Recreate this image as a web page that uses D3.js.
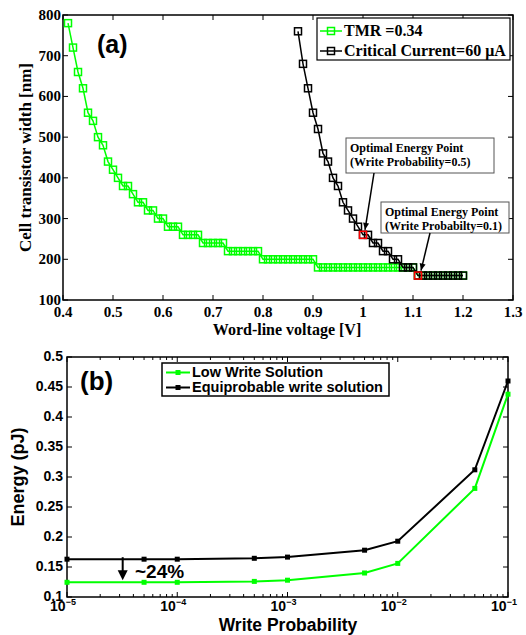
<!DOCTYPE html>
<html>
<head>
<meta charset="utf-8">
<script src="https://cdn.jsdelivr.net/npm/d3@7"></script>
<style>
  body { margin: 0; background: #fff; }
  svg { display: block; }
  .serif { font-family: "Liberation Serif", "Times New Roman", serif; font-weight: bold; }
  .sans { font-family: "Liberation Sans", Arial, sans-serif; font-weight: bold; }
</style>
</head>
<body>
<svg id="fig" width="526" height="635"></svg>
<script>
// ---- panel (a) data ----
var tmrVolt = [0.41,0.42,0.43,0.44,0.45,0.46,0.47,0.48,0.49,0.50,
  0.51,0.52,0.53,0.54,0.55,0.56,0.57,0.58,0.59,0.60,
  0.61,0.62,0.63,0.64,0.65,0.66,0.67,0.68,0.69,0.70,
  0.71,0.72,0.73,0.74,0.75,0.76,0.77,0.78,0.79,0.80,
  0.81,0.82,0.83,0.84,0.85,0.86,0.87,0.88,0.89,0.90,
  0.91,0.92,0.93,0.94,0.95,0.96,0.97,0.98,0.99,1.00,
  1.01,1.02,1.03,1.04,1.05,1.06,1.07,1.08,1.09,1.10,
  1.11,1.12,1.13,1.14,1.15,1.16,1.17,1.18,1.19,1.20];
var tmrWidth = [780,720,660,620,560,540,500,480,440,420,
  400,380,380,360,340,340,320,320,300,300,
  280,280,280,260,260,260,260,240,240,240,
  240,240,220,220,220,220,220,220,220,200,
  200,200,200,200,200,200,200,200,200,200,
  180,180,180,180,180,180,180,180,180,180,
  180,180,180,180,180,180,180,180,180,180,
  160,160,160,160,160,160,160,160,160,160];
var ccVolt = [0.87,0.88,0.89,0.90,0.91,0.92,0.93,0.94,0.95,0.96,
  0.97,0.98,0.99,1.00,1.01,1.02,1.03,1.04,1.05,1.06,
  1.07,1.08,1.09,1.10,1.11,1.12,1.13,1.14,1.15,1.16,
  1.17,1.18,1.19,1.20];
var ccWidth = [760,680,620,560,520,460,440,400,380,340,
  320,300,280,260,260,240,240,220,220,200,
  200,180,180,180,160,160,160,160,160,160,
  160,160,160,160];
var optVolt = [1.00, 1.11];
var optWidth = [260, 160];
var xTicksA = [0.4,0.5,0.6,0.7,0.8,0.9,1.0,1.1,1.2,1.3];
var xTickLabelsA = ["0.4","0.5","0.6","0.7","0.8","0.9","1","1.1","1.2","1.3"];
var yTicksA = [100,200,300,400,500,600,700,800];

// ---- panel (b) data ----
var writeProb = [1e-5,5e-5,1e-4,5e-4,1e-3,5e-3,1e-2,5e-2,1e-1];
var lowWrite = [0.1245,0.1245,0.1245,0.126,0.128,0.140,0.156,0.281,0.438];
var equiWrite = [0.163,0.163,0.163,0.1645,0.1665,0.178,0.193,0.312,0.46];
var yTicksB = [0.1,0.15,0.2,0.25,0.3,0.35,0.4,0.45,0.5];
var yTickLabelsB = ["0.1","0.15","0.2","0.25","0.3","0.35","0.4","0.45","0.5"];
var xDecadesB = [-5,-4,-3,-2,-1];

var GREEN = "#00ff00";
var svg = d3.select("#fig");

// ================= panel (a) =================
var a = {left: 63, right: 513, top: 15, bottom: 300};
var xa = d3.scaleLinear().domain([0.4, 1.3]).range([a.left, a.right]);
var ya = d3.scaleLinear().domain([100, 800]).range([a.bottom, a.top]);

var gA = svg.append("g");
gA.append("rect").attr("x", a.left).attr("y", a.top)
  .attr("width", a.right - a.left).attr("height", a.bottom - a.top)
  .attr("fill", "none").attr("stroke", "#000").attr("stroke-width", 1.5);

// inward ticks on all four sides
xTicksA.forEach(function(t) {
  gA.append("line").attr("x1", xa(t)).attr("x2", xa(t)).attr("y1", a.bottom).attr("y2", a.bottom - 5).attr("stroke", "#000");
  gA.append("line").attr("x1", xa(t)).attr("x2", xa(t)).attr("y1", a.top).attr("y2", a.top + 5).attr("stroke", "#000");
});
yTicksA.forEach(function(t) {
  gA.append("line").attr("x1", a.left).attr("x2", a.left + 5).attr("y1", ya(t)).attr("y2", ya(t)).attr("stroke", "#000");
  gA.append("line").attr("x1", a.right).attr("x2", a.right - 5).attr("y1", ya(t)).attr("y2", ya(t)).attr("stroke", "#000");
});
gA.selectAll("text.xt").data(xTicksA).enter().append("text")
  .attr("class", "serif").attr("x", d => xa(d)).attr("y", a.bottom + 17)
  .attr("text-anchor", "middle").attr("font-size", 15)
  .text((d, i) => xTickLabelsA[i]);
gA.selectAll("text.yt").data(yTicksA).enter().append("text")
  .attr("class", "serif").attr("x", a.left - 2).attr("y", d => ya(d) + 5)
  .attr("text-anchor", "end").attr("font-size", 15).text(d => d);

gA.append("text").attr("class", "serif").attr("x", 287).attr("y", 335)
  .attr("text-anchor", "middle").attr("font-size", 16).text("Word-line voltage [V]");
gA.append("text").attr("class", "serif").attr("font-size", 17)
  .attr("text-anchor", "middle")
  .attr("transform", "translate(31," + ((a.top + a.bottom) / 2) + ") rotate(-90)")
  .text("Cell transistor width [nm]");

var lineA = d3.line().x(d => xa(d[0])).y(d => ya(d[1]));
var tmrPts = tmrVolt.map((v, i) => [v, tmrWidth[i]]);
var ccPts = ccVolt.map((v, i) => [v, ccWidth[i]]);

function drawSeriesA(pts, color) {
  gA.append("path").datum(pts).attr("d", lineA)
    .attr("fill", "none").attr("stroke", color).attr("stroke-width", 1.5);
  gA.selectAll(null).data(pts).enter().append("rect")
    .attr("x", d => xa(d[0]) - 3.5).attr("y", d => ya(d[1]) - 3.5)
    .attr("width", 7).attr("height", 7)
    .attr("fill", "none").attr("stroke", color).attr("stroke-width", 1.5);
}
drawSeriesA(tmrPts, GREEN);
drawSeriesA(ccPts, "#000");
gA.selectAll(null).data(optVolt).enter().append("rect")
  .attr("x", d => xa(d) - 3.5).attr("y", (d, i) => ya(optWidth[i]) - 3.5)
  .attr("width", 7).attr("height", 7)
  .attr("fill", "none").attr("stroke", "#ff0000").attr("stroke-width", 1.5);

gA.append("text").attr("class", "sans").attr("x", 97).attr("y", 53)
  .attr("font-size", 25).text("(a)");

// legend (a)
var legA = gA.append("g");
legA.append("rect").attr("x", 317).attr("y", 18).attr("width", 193).attr("height", 42)
  .attr("fill", "#fff").attr("stroke", "#000").attr("stroke-width", 1.2);
[["TMR =0.34", GREEN, 36], ["Critical Current=60 \u03bcA", "#000", 56]].forEach(function(e) {
  legA.append("line").attr("x1", 320).attr("x2", 342).attr("y1", e[2] - 5).attr("y2", e[2] - 5)
    .attr("stroke", e[1]).attr("stroke-width", 1.5);
  legA.append("rect").attr("x", 327.5).attr("y", e[2] - 8.5).attr("width", 7).attr("height", 7)
    .attr("fill", "none").attr("stroke", e[1]).attr("stroke-width", 1.5);
  legA.append("text").attr("class", "serif").attr("x", 344).attr("y", e[2])
    .attr("font-size", 16).text(e[0]);
});

// annotation boxes
function annot(x, y, w, h, lines, ax, ay, tx, ty) {
  var g = gA.append("g");
  g.append("rect").attr("x", x).attr("y", y).attr("width", w).attr("height", h)
    .attr("fill", "#fff").attr("stroke", "#555").attr("stroke-width", 1);
  lines.forEach(function(l, i) {
    g.append("text").attr("class", "serif").attr("x", x + 4).attr("y", y + 14 + i * 14)
      .attr("font-size", 12).text(l);
  });
  g.append("line").attr("x1", ax).attr("y1", ay).attr("x2", tx).attr("y2", ty)
    .attr("stroke", "#000").attr("stroke-width", 1.5);
  var ang = Math.atan2(ty - ay, tx - ax);
  var L = 7, W = 3;
  var p = [[tx, ty],
    [tx - L * Math.cos(ang) + W * Math.sin(ang), ty - L * Math.sin(ang) - W * Math.cos(ang)],
    [tx - L * Math.cos(ang) - W * Math.sin(ang), ty - L * Math.sin(ang) + W * Math.cos(ang)]];
  g.append("path").attr("d", "M" + p.join("L") + "Z").attr("fill", "#000");
}
annot(346, 138, 148, 35, ["Optimal Energy Point", "(Write Probability=0.5)"],
  374, 173, xa(optVolt[0]) + 2, ya(optWidth[0]) - 5);
annot(381, 202, 128, 31, ["Optimal Energy Point", "(Write Probabilty=0.1)"],
  430, 233, xa(optVolt[1]) + 3, ya(optWidth[1]) - 5);

// ================= panel (b) =================
var b = {left: 67, right: 508, top: 357, bottom: 597};
var xb = d3.scaleLog().domain([1e-5, 1e-1]).range([b.left, b.right]);
var yb = d3.scaleLinear().domain([0.1, 0.5]).range([b.bottom, b.top]);

var gB = svg.append("g");
gB.append("rect").attr("x", b.left).attr("y", b.top)
  .attr("width", b.right - b.left).attr("height", b.bottom - b.top)
  .attr("fill", "none").attr("stroke", "#000").attr("stroke-width", 1.5);

xb.ticks().forEach(function(t) {
  var major = Math.abs(Math.log10(t) - Math.round(Math.log10(t))) < 1e-9;
  var len = major ? 5 : 3;
  gB.append("line").attr("x1", xb(t)).attr("x2", xb(t)).attr("y1", b.bottom).attr("y2", b.bottom - len).attr("stroke", "#000");
  gB.append("line").attr("x1", xb(t)).attr("x2", xb(t)).attr("y1", b.top).attr("y2", b.top + len).attr("stroke", "#000");
});
yTicksB.forEach(function(t) {
  gB.append("line").attr("x1", b.left).attr("x2", b.left + 5).attr("y1", yb(t)).attr("y2", yb(t)).attr("stroke", "#000");
  gB.append("line").attr("x1", b.right).attr("x2", b.right - 5).attr("y1", yb(t)).attr("y2", yb(t)).attr("stroke", "#000");
});
gB.selectAll(null).data(yTicksB).enter().append("text")
  .attr("class", "sans").attr("x", b.left - 4).attr("y", d => yb(d) + 4)
  .attr("text-anchor", "end").attr("font-size", 14)
  .text((d, i) => yTickLabelsB[i]);
xDecadesB.forEach(function(e) {
  var t = gB.append("text").attr("class", "sans").attr("x", xb(Math.pow(10, e)) - 4)
    .attr("y", b.bottom + 14).attr("text-anchor", "middle").attr("font-size", 14);
  t.append("tspan").text("10");
  t.append("tspan").attr("dy", -6).attr("font-size", 9).text("\u2212" + (-e));
});
gB.append("text").attr("class", "sans").attr("x", 288).attr("y", 631)
  .attr("text-anchor", "middle").attr("font-size", 17.5).text("Write Probability");
gB.append("text").attr("class", "sans").attr("font-size", 18)
  .attr("text-anchor", "middle")
  .attr("transform", "translate(24," + ((b.top + b.bottom) / 2) + ") rotate(-90)")
  .text("Energy (pJ)");

var lineB = d3.line().x(d => xb(d[0])).y(d => yb(d[1]));
function drawSeriesB(vals, color) {
  var pts = writeProb.map((p, i) => [p, vals[i]]);
  gB.append("path").datum(pts).attr("d", lineB)
    .attr("fill", "none").attr("stroke", color).attr("stroke-width", 2);
  gB.selectAll(null).data(pts).enter().append("rect")
    .attr("x", d => xb(d[0]) - 2.5).attr("y", d => yb(d[1]) - 2.5)
    .attr("width", 5).attr("height", 5).attr("fill", color);
}
drawSeriesB(lowWrite, GREEN);
drawSeriesB(equiWrite, "#000");

gB.append("text").attr("class", "sans").attr("x", 80).attr("y", 390)
  .attr("font-size", 26).text("(b)");

// legend (b)
var legB = gB.append("g");
legB.append("rect").attr("x", 162).attr("y", 363).attr("width", 227).attr("height", 33)
  .attr("fill", "#fff").attr("stroke", "#000").attr("stroke-width", 1.5);
[["Low Write Solution", GREEN, 377], ["Equiprobable write solution", "#000", 392]].forEach(function(e) {
  legB.append("line").attr("x1", 166).attr("x2", 190).attr("y1", e[2] - 4.5).attr("y2", e[2] - 4.5)
    .attr("stroke", e[1]).attr("stroke-width", 2);
  legB.append("rect").attr("x", 175.5).attr("y", e[2] - 7).attr("width", 5).attr("height", 5).attr("fill", e[1]);
  legB.append("text").attr("class", "sans").attr("x", 192).attr("y", e[2])
    .attr("font-size", 14.5).text(e[0]);
});

// ~24% annotation
var arrowP = 3.2e-5;
var ax0 = xb(arrowP);
gB.append("line").attr("x1", ax0).attr("x2", ax0).attr("y1", yb(equiWrite[0]) - 2).attr("y2", yb(lowWrite[0]) - 10)
  .attr("stroke", "#000").attr("stroke-width", 2);
gB.append("path")
  .attr("d", "M" + (ax0 - 5) + "," + (yb(lowWrite[0]) - 12) + "L" + (ax0 + 5) + "," + (yb(lowWrite[0]) - 12) + "L" + ax0 + "," + (yb(lowWrite[0]) - 2) + "Z")
  .attr("fill", "#000");
gB.append("text").attr("class", "sans").attr("x", 135).attr("y", 578)
  .attr("font-size", 19).text("~24%");
</script>
</body>
</html>
